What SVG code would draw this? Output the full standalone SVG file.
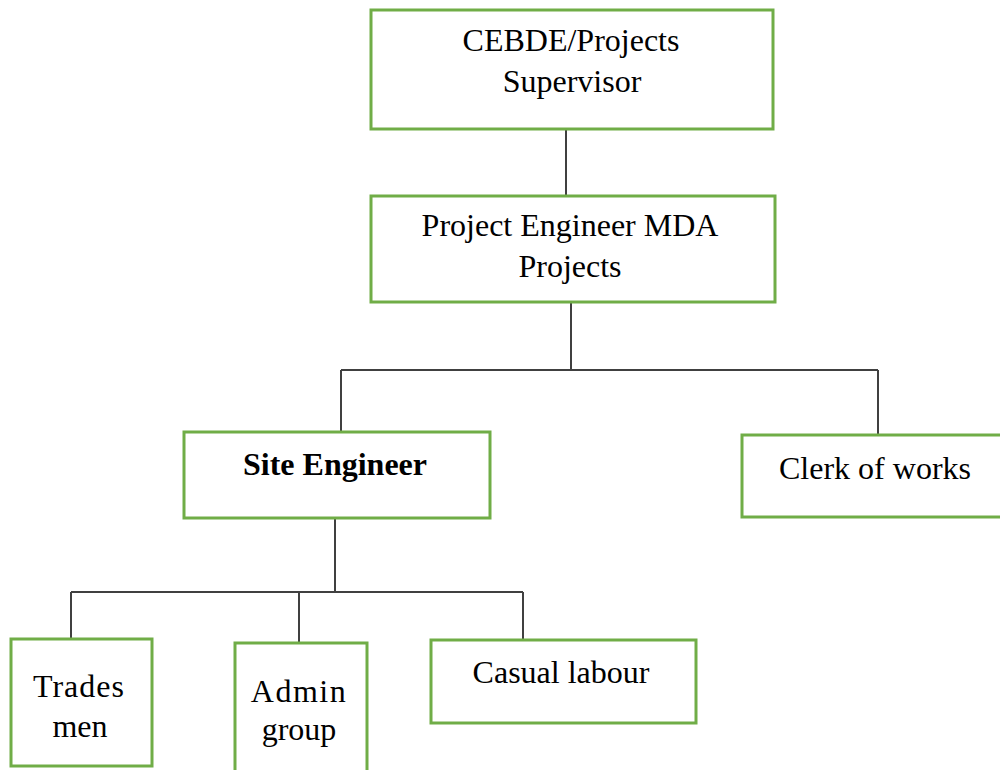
<svg xmlns="http://www.w3.org/2000/svg" width="1000" height="770" viewBox="0 0 1000 770">
<style>
.box{fill:#fff;stroke:#70AD47;stroke-width:3}
.t{font-family:"Liberation Serif","Times New Roman",serif;font-size:32px;fill:#000;text-anchor:middle}
.b{font-weight:bold}
.c{stroke:#404040;stroke-width:2;fill:none}
</style>
<rect width="1000" height="770" fill="#fff"/>
<g id="connectors">
<path class="c" d="M566 129V196"/>
<path class="c" d="M571 302V370M341 370H878M341 370V432M878 370V435"/>
<path class="c" d="M335 518V592M71 592H523M71 592V638M299 592V642M523 592V640"/>
</g>
<g id="n1"><rect class="box" x="371" y="10" width="402" height="119"/>
<text class="t" x="571" y="51">CEBDE/Projects</text><text class="t" x="572" y="92">Supervisor</text></g>
<g id="n2"><rect class="box" x="371" y="196" width="404" height="106"/>
<text class="t" x="570" y="236">Project Engineer MDA</text><text class="t" x="570" y="277">Projects</text></g>
<g id="n3"><rect class="box" x="184" y="432" width="306" height="86"/>
<text class="t b" x="335" y="475">Site Engineer</text></g>
<g id="n4"><rect class="box" x="742" y="435" width="262" height="82"/>
<text class="t" x="875" y="479">Clerk of works</text></g>
<g id="n5"><rect class="box" x="11" y="639" width="141" height="127"/>
<text class="t" x="79" y="697" letter-spacing="1">Trades</text><text class="t" x="80" y="737">men</text></g>
<g id="n6"><rect class="box" x="235" y="643" width="132" height="132"/>
<text class="t" x="299" y="702" letter-spacing="1.5">Admin</text><text class="t" x="299" y="740">group</text></g>
<g id="n7"><rect class="box" x="431" y="640" width="265" height="83"/>
<text class="t" x="561" y="683">Casual labour</text></g>
</svg>
